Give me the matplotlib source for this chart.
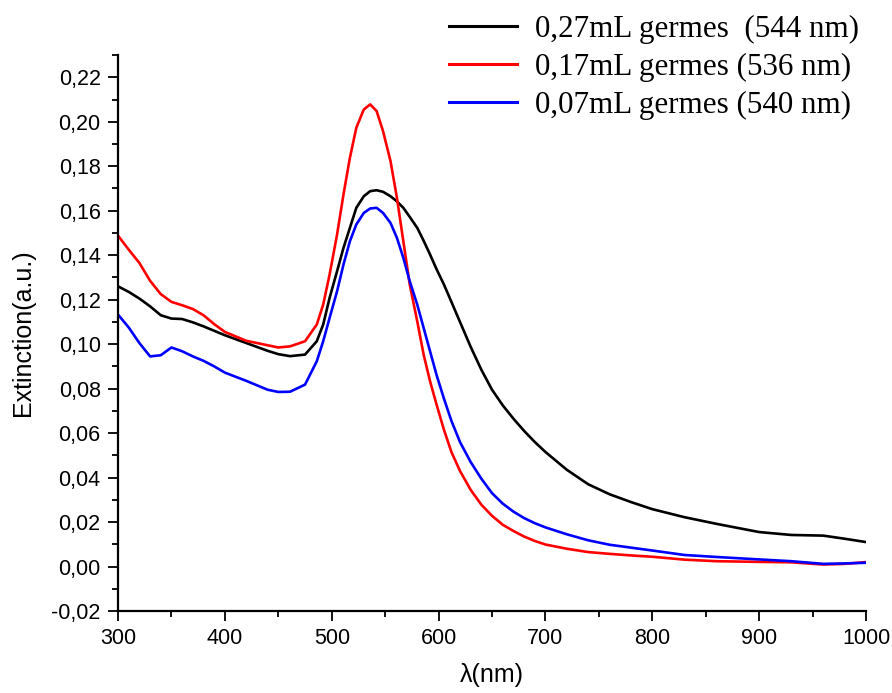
import matplotlib
matplotlib.use("Agg")
import matplotlib.pyplot as plt
from matplotlib.ticker import MultipleLocator, FuncFormatter

wavelength = [300, 310, 320, 330, 340, 350, 360, 370, 380, 390, 400, 420, 440, 450, 461,
              475, 486, 492, 498, 505, 511, 517, 523, 530, 536, 542, 548, 555, 561, 567,
              573, 580, 586, 592, 598, 605, 612, 620, 630, 640, 650, 660, 670, 680, 690,
              700, 720, 740, 760, 780, 800, 830, 860, 900, 930, 960, 980, 1000]

ext_027 = [0.126, 0.1235, 0.1205, 0.117, 0.113, 0.1115, 0.1113, 0.1098, 0.108, 0.106,
           0.104, 0.1005, 0.097, 0.0955, 0.0946, 0.0953, 0.1013, 0.1088, 0.1208, 0.1328,
           0.1433, 0.1523, 0.1613, 0.1665, 0.1688, 0.1692, 0.1685, 0.1665, 0.1642, 0.1613,
           0.1572, 0.1523, 0.1465, 0.1403, 0.1338, 0.1268, 0.119, 0.110, 0.0988, 0.0885,
           0.0795, 0.0725, 0.0665, 0.061, 0.056, 0.0515, 0.0435, 0.037, 0.0325, 0.029,
           0.0258, 0.0222, 0.0192, 0.0155, 0.0142, 0.0139, 0.0125, 0.011]

ext_017 = [0.1488, 0.1425, 0.1365, 0.1285, 0.1225, 0.119, 0.1175, 0.1158, 0.113, 0.109,
           0.1055, 0.1015, 0.0995, 0.0985, 0.099, 0.1013, 0.1088, 0.1178, 0.1313, 0.1493,
           0.1673, 0.1838, 0.1973, 0.2055, 0.2078, 0.2048, 0.1958, 0.1823, 0.1658, 0.1463,
           0.1268, 0.1103, 0.0953, 0.0833, 0.073, 0.0615, 0.0515, 0.043, 0.0345, 0.0278,
           0.0228, 0.0188, 0.016, 0.0135, 0.0115, 0.0099, 0.008, 0.0065, 0.0057, 0.005,
           0.0044, 0.0031, 0.0024, 0.0021, 0.0019, 0.0009, 0.0012, 0.002]

ext_007 = [0.1133, 0.1075, 0.1005, 0.0945, 0.0950, 0.0985, 0.0968, 0.0945, 0.0925, 0.090,
           0.0872, 0.0835, 0.0795, 0.0785, 0.0786, 0.0818, 0.0923, 0.1013, 0.1118, 0.1238,
           0.1358, 0.1463, 0.1538, 0.159, 0.161, 0.1613, 0.159, 0.1545, 0.1478, 0.1388,
           0.1283, 0.1178, 0.1073, 0.0968, 0.0863, 0.0755, 0.0655, 0.056, 0.047, 0.0395,
           0.033, 0.0283, 0.0247, 0.0218, 0.0195, 0.0176, 0.0145, 0.0118, 0.0098, 0.0085,
           0.0072, 0.0052, 0.0043, 0.0032, 0.0024, 0.0012, 0.0014, 0.0017]

labels = ["0,27mL germes  (544 nm)", "0,17mL germes (536 nm)", "0,07mL germes (540 nm)"]
colors = ["#000000", "#ff0000", "#0000ff"]

plt.rcParams['font.family'] = ['Liberation Sans', 'DejaVu Sans']

fig = plt.figure(figsize=(8.92, 6.93), dpi=100)
ax = fig.add_axes([0.1323, 0.1183, 0.9709 - 0.1323, 0.9206 - 0.1183])

for ys, c, lab in zip([ext_027, ext_017, ext_007], colors, labels):
    ax.plot(wavelength, ys, color=c, lw=1.9, label=lab, solid_joinstyle="round")

ax.set_xlim(300, 1000)
ax.set_ylim(-0.02, 0.23)
ax.xaxis.set_major_locator(MultipleLocator(100))
ax.xaxis.set_minor_locator(MultipleLocator(50))
ax.yaxis.set_major_locator(MultipleLocator(0.02))
ax.yaxis.set_minor_locator(MultipleLocator(0.01))
ax.yaxis.set_major_formatter(FuncFormatter(lambda v, p: ("%.2f" % v).replace(".", ",").replace("-0,00", "0,00")))

for s in ["top", "right"]:
    ax.spines[s].set_visible(False)
for s in ["left", "bottom"]:
    ax.spines[s].set_linewidth(1.6)

ax.tick_params(which="major", direction="out", length=7.5, width=1.3, labelsize=15.5, pad=5)
ax.tick_params(which="minor", direction="out", length=4, width=1.3)

ax.set_xlabel("λ(nm)", fontsize=18, labelpad=10)
ax.set_ylabel("Extinction(a.u.)", fontsize=18, labelpad=12)

leg = fig.legend(loc="upper left", bbox_to_anchor=(0.503, 0.978), frameon=False,
                 prop={"family": "Liberation Serif", "size": 22.3}, handlelength=2.2,
                 handletextpad=0.6, labelspacing=0.28, borderpad=0, borderaxespad=0)
for line in leg.get_lines():
    line.set_linewidth(2.2)

fig.savefig("out.png", dpi=100)
